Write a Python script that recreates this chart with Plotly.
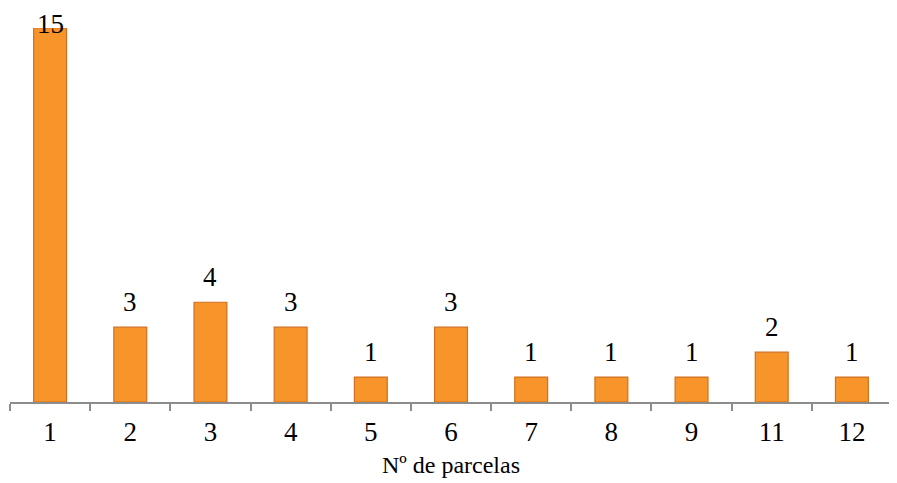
import plotly.graph_objects as go

categories = ["1", "2", "3", "4", "5", "6", "7", "8", "9", "11", "12"]
values = [15, 3, 4, 3, 1, 3, 1, 1, 1, 2, 1]
x_title = "Nº de parcelas"

SERIF = "Liberation Serif"

fig = go.Figure()
fig.add_trace(go.Bar(
    x=categories, y=values,
    marker=dict(color="#F7942A", line=dict(color="#CF7020", width=1.2)),
    width=0.41, cliponaxis=False, hoverinfo="x+y",
))
vmax = max(values)
for i, v in enumerate(values):
    fig.add_annotation(
        x=i, y=v, xref="x", yref="y", text=str(v), showarrow=False,
        yanchor="middle", yshift=(4 if v == vmax else 25),
        font=dict(family=SERIF, size=27, color="black"),
    )
fig.update_layout(
    width=897, height=483,
    margin=dict(l=2, r=13, t=20, b=89, autoexpand=False),
    plot_bgcolor="white", paper_bgcolor="white",
    showlegend=False,
    font=dict(family=SERIF, size=27, color="black"),
)
fig.update_xaxes(
    type="category", range=[-0.5, len(categories) - 0.5],
    showline=True, linecolor="#8C8C8C", linewidth=2,
    ticks="outside", tickson="boundaries", ticklen=7, tickcolor="#8C8C8C", tickwidth=2,
    tickfont=dict(family=SERIF, size=27), ticklabelstandoff=5,
    title=dict(text=x_title, font=dict(family=SERIF, size=24), standoff=10),
    showgrid=False, automargin=False,
)
fig.update_yaxes(range=[0, 15], visible=False, showgrid=False)
fig.write_html("out.html")
